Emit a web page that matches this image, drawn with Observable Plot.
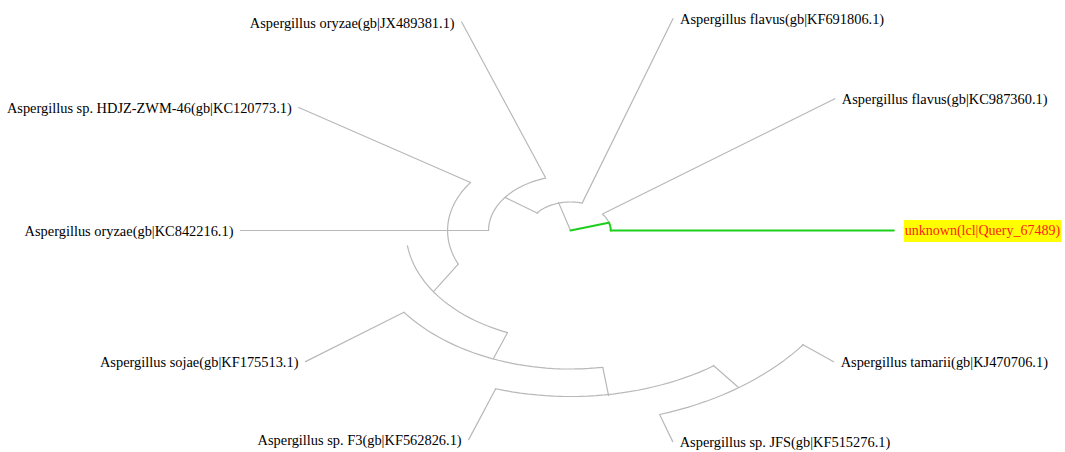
<!DOCTYPE html>
<html><head><meta charset="utf-8">
<script src="https://cdn.jsdelivr.net/npm/d3@7"></script>
<script src="https://cdn.jsdelivr.net/npm/@observablehq/plot@0.6"></script>
<style>body{margin:0;background:#fff;overflow:hidden}</style>
</head><body><div id="chart"></div>
<script>
// Leaves: name, branch start [radius, angle°], branch end [radius, angle°]
const leafNames = [
  "unknown(lcl|Query_67489)",
  "Aspergillus flavus(gb|KC987360.1)",
  "Aspergillus flavus(gb|KF691806.1)",
  "Aspergillus oryzae(gb|JX489381.1)",
  "Aspergillus sp. HDJZ-ZWM-46(gb|KC120773.1)",
  "Aspergillus oryzae(gb|KC842216.1)",
  "Aspergillus sojae(gb|KF175513.1)",
  "Aspergillus sp. F3(gb|KF562826.1)",
  "Aspergillus sp. JFS(gb|KF515276.1)",
  "Aspergillus tamarii(gb|KJ470706.1)"
];
const leafFrom = [[27,0],[27.9,-37.6],[29,-74],[55.6,-107.6],[82.5,-144.4],[82.5,180],[138.5,143.8],[166,107.6],[194.6,72],[193,36.2]];
const leafTo   = [[217,0],[221,-36.6],[222.8,-72],[221,-109.3],[220,-146],[221.5,180],[221,143.6],[220,108.1],[222,72],[220,36.6]];
const queryLeaf = "unknown(lcl|Query_67489)";

// Internal branches: parent point -> child node point [radius, angle°]
const branchIds  = ["root-A","root-B","B-D","D-E","E-F","F-G","G-H","H-I"];
const branchFrom = [[0,0],[0,0],[28,-142],[55,180],[82.5,156],[110.4,112.5],[138.7,81],[165.6,54.6]];
const branchTo   = [[26.7,-17],[29,-106],[55,-143],[82.5,180],[110.4,146.4],[138,112],[167,81.2],[193.3,54.3]];
const queryPath  = ["root-A","A2"];

// Arcs of internal nodes: id, radius, start angle, end angle
const arcIds    = ["A1","A2","B","D","E","F","G","H","I"];
const arcRadius = [27,27,28.5,55,82.5,110.5,138.5,166,193.5];
const arcStart  = [-37.6,-17,-142,180,156,112.5,81,54.6,36.2];
const arcEnd    = [-17,0,-74,252.4,215.6,172,143.8,107.6,72];

// ---- build geometry (radial layout) ----
const rad = d => d * Math.PI / 180;
const pt = ([r, a]) => ({u: r * Math.cos(rad(a)), v: r * Math.sin(rad(a))});
const segs = [];
branchIds.forEach((id, i) => {
  const hl = queryPath.includes(id);
  segs.push({id, hl, ...pt(branchFrom[i])}, {id, hl, ...pt(branchTo[i])});
});
arcIds.forEach((id, i) => {
  const hl = queryPath.includes(id);
  const n = Math.max(4, Math.ceil(Math.abs(arcEnd[i] - arcStart[i]) / 2));
  for (let k = 0; k <= n; k++) {
    const a = arcStart[i] + (arcEnd[i] - arcStart[i]) * k / n;
    segs.push({id, hl, ...pt([arcRadius[i], a])});
  }
});
leafNames.forEach((name, i) => {
  const hl = name === queryLeaf;
  segs.push({id: "leaf" + i, hl, ...pt(leafFrom[i])}, {id: "leaf" + i, hl, ...pt(leafTo[i])});
});
const labels = leafNames.map((name, i) => {
  const p = pt(leafTo[i]);
  return {name, ...p, right: p.u > 0, q: name === queryLeaf};
});

const W = 1065, H = 452, cx = 570, cy = 230, sx = 1.49;
const chart = Plot.plot({
  width: W, height: H,
  margin: 0,
  x: {domain: [-cx / sx, (W - cx) / sx], range: [0, W], axis: null},
  y: {domain: [-cy, H - cy], range: [0, H], axis: null},
  style: {background: "#fff", overflow: "visible"},
  marks: [
    Plot.line(segs.filter(d => !d.hl), {x: "u", y: "v", z: "id", stroke: "#b8b8b8", strokeWidth: 1.2, curve: "linear"}),
    Plot.line(segs.filter(d => d.hl), {x: "u", y: "v", z: "id", stroke: "#1ccf1c", strokeWidth: 2, curve: "linear"}),
    Plot.text(labels.filter(d => d.right && !d.q), {x: "u", y: "v", text: "name", textAnchor: "start", dx: 7, dy: 1, fill: "#000", fontFamily: "Liberation Serif", fontSize: 14.4}),
    Plot.text(labels.filter(d => !d.right), {x: "u", y: "v", text: "name", textAnchor: "end", dx: -7, dy: 1, fill: "#000", fontFamily: "Liberation Serif", fontSize: 14.4}),
    Plot.text(labels.filter(d => d.q), {x: "u", y: "v", text: "name", textAnchor: "start", dx: 11, fill: "#ff1a1a", fontFamily: "Liberation Serif", fontSize: 14})
  ]
});
document.getElementById("chart").appendChild(chart);

// yellow highlight behind the query label
chart.querySelectorAll("text").forEach(t => {
  if (t.textContent === queryLeaf) {
    const b = t.getBBox();
    const rect = document.createElementNS("http://www.w3.org/2000/svg", "rect");
    rect.setAttribute("x", b.x - 1);
    rect.setAttribute("y", b.y - 3);
    rect.setAttribute("width", b.width + 2);
    rect.setAttribute("height", b.height + 6);
    rect.setAttribute("fill", "#ffff00");
    const tr = t.getAttribute("transform");
    if (tr) rect.setAttribute("transform", tr);
    t.parentNode.insertBefore(rect, t);
  }
});
</script>
</body></html>
